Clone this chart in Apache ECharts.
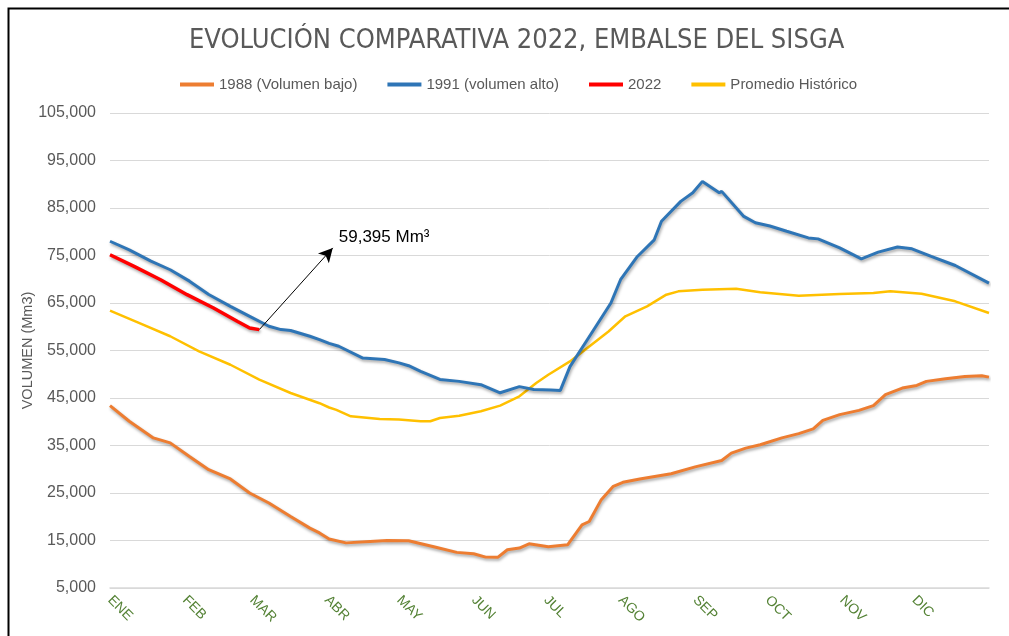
<!DOCTYPE html>
<html>
<head>
<meta charset="utf-8">
<script src="https://cdn.jsdelivr.net/npm/echarts@6/dist/echarts.min.js"></script>
<style>
  html, body { margin: 0; padding: 0; background: #ffffff; }
  #chart { width: 1009px; height: 636px; }
</style>
</head>
<body>
<div id="chart"></div>
<script>
// ---- Data (day of year, volume in Mm3) ----
const months = ['ENE','FEB','MAR','ABR','MAY','JUN','JUL','AGO','SEP','OCT','NOV','DIC'];
const monthStartDays = [0, 31, 59, 90, 120, 151, 181, 212, 243, 273, 304, 334];
const yTicks = [5000, 15000, 25000, 35000, 45000, 55000, 65000, 75000, 85000, 95000, 105000];

const days1988 = [0, 8, 18, 25, 33, 41, 50, 58, 66, 75, 83, 87, 91, 98, 108, 115, 124, 134, 144, 151, 156, 161, 165, 170, 174, 182, 190, 196, 199, 204, 209, 213, 220, 233, 243, 254, 258, 264, 270, 279, 286, 292, 296, 303, 311, 317, 322, 329, 335, 339, 347, 355, 362, 365];
const vol1988  = [43400, 40100, 36600, 35550, 32700, 29900, 27950, 25000, 22900, 20050, 17600, 16600, 15300, 14500, 14800, 15000, 14950, 13750, 12500, 12200, 11500, 11450, 13050, 13400, 14300, 13700, 14100, 18300, 19000, 23600, 26400, 27250, 27950, 29050, 30500, 31850, 33400, 34450, 35150, 36600, 37500, 38500, 40300, 41500, 42400, 43400, 45700, 47100, 47650, 48500, 49050, 49550, 49700, 49400];

const days1991 = [0, 8, 17, 25, 33, 41, 50, 58, 66, 71, 75, 83, 87, 91, 95, 105, 114, 120, 124, 129, 137, 145, 154, 162, 170, 176, 183, 187, 191, 199, 208, 212, 219, 226, 229, 237, 242, 246, 253, 254, 263, 268, 274, 281, 290, 294, 303, 312, 319, 327, 333, 341, 351, 365];
const vol1991  = [78000, 76200, 73800, 72000, 69600, 66800, 64300, 62200, 60100, 59400, 59200, 58000, 57300, 56500, 55900, 53400, 53100, 52400, 51800, 50600, 48900, 48500, 47800, 46100, 47400, 46800, 46700, 46600, 51600, 57900, 65000, 69900, 74800, 78300, 82200, 86400, 88200, 90600, 88200, 88500, 83300, 81900, 81200, 80100, 78700, 78500, 76600, 74300, 75700, 76800, 76400, 74800, 72900, 69200];

const days2022 = [0, 10, 21, 32, 43, 53, 58, 62];
const vol2022  = [75150, 72700, 69900, 66750, 63950, 61100, 59750, 59395];

const daysProm = [0, 12, 25, 37, 50, 62, 75, 87, 91, 94, 100, 112, 120, 129, 133, 137, 145, 154, 162, 170, 177, 182, 191, 199, 207, 214, 223, 231, 236, 246, 260, 270, 286, 303, 317, 324, 337, 351, 365];
const volProm  = [63400, 60800, 58000, 54800, 52000, 48850, 46050, 43900, 43000, 42500, 41150, 40600, 40450, 40100, 40100, 40800, 41250, 42200, 43400, 45350, 48150, 49900, 52700, 55850, 59000, 62200, 64300, 66750, 67450, 67800, 68000, 67250, 66550, 66900, 67100, 67450, 66950, 65350, 62900];

const annotationText = '59,395 Mm³';
const annotationFrom = [62, 59395];
const annotationTo = [92.5, 76600];

const zip = (xs, ys) => xs.map((x, i) => [x, ys[i]]);

const FONT = "'Liberation Sans', Arial, sans-serif";
const NARROW = "'Liberation Sans Narrow', 'DejaVu Sans Condensed', 'Liberation Sans', sans-serif";
const shadow = { shadowColor: 'rgba(0,0,0,0.35)', shadowBlur: 3, shadowOffsetX: 1, shadowOffsetY: 2 };

const chart = echarts.init(document.getElementById('chart'), null, { renderer: 'canvas' });
chart.setOption({
  animation: false,
  backgroundColor: '#ffffff',
  graphic: [{
    type: 'rect', left: 6, top: 6, silent: true, z: 100,
    shape: { width: 1100, height: 700 },
    style: { fill: 'none', stroke: '#000000', lineWidth: 2 }
  }],
  title: {
    text: 'EVOLUCIÓN COMPARATIVA 2022, EMBALSE DEL SISGA',
    left: 189, top: 27, padding: 0,
    textStyle: { fontFamily: NARROW, fontSize: 27, fontWeight: 'normal', color: '#595959' }
  },
  legend: {
    left: 175, top: 72, icon: 'rect', itemWidth: 34, itemHeight: 4, itemGap: 30,
    textStyle: { fontFamily: FONT, fontSize: 15, color: '#595959' },
    data: ['1988 (Volumen bajo)', '1991 (volumen alto)', '2022', 'Promedio Histórico']
  },
  grid: { left: 110, right: 20, top: 113, bottom: 48, containLabel: false },
  xAxis: {
    type: 'value', min: 0, max: 365,
    axisLine: { show: true, lineStyle: { color: '#d9d9d9', width: 1.5 } },
    axisTick: { show: false },
    splitLine: { show: false },
    axisLabel: {
      customValues: monthStartDays,
      formatter: v => months[monthStartDays.indexOf(v)] || '',
      rotate: -45, margin: 10,
      fontFamily: FONT, fontSize: 14, color: '#548235'
    }
  },
  yAxis: {
    type: 'value', min: yTicks[0], max: yTicks[yTicks.length - 1], interval: yTicks[1] - yTicks[0],
    name: 'VOLUMEN (Mm3)', nameLocation: 'middle', nameGap: 75, nameMoveOverlap: false,
    nameTextStyle: { fontFamily: FONT, fontSize: 14.5, color: '#595959' },
    axisLine: { show: false }, axisTick: { show: false },
    splitLine: { lineStyle: { color: '#d9d9d9', width: 1 } },
    axisLabel: {
      margin: 14, fontFamily: FONT, fontSize: 16, color: '#595959',
      formatter: v => v.toLocaleString('en-US')
    }
  },
  series: [
    {
      name: '1988 (Volumen bajo)', type: 'line', showSymbol: false, symbol: 'none',
      data: zip(days1988, vol1988), color: '#ED7D31',
      lineStyle: Object.assign({ width: 3, color: '#ED7D31' }, shadow), z: 3
    },
    {
      name: '1991 (volumen alto)', type: 'line', showSymbol: false, symbol: 'none',
      data: zip(days1991, vol1991), color: '#2E75B6',
      lineStyle: Object.assign({ width: 3, color: '#2E75B6' }, shadow), z: 3
    },
    {
      name: '2022', type: 'line', showSymbol: false, symbol: 'none',
      data: zip(days2022, vol2022), color: '#FF0000',
      lineStyle: Object.assign({ width: 3.5, color: '#FF0000' }, shadow), z: 5,
      markLine: {
        silent: true, symbol: ['none', 'arrow'], symbolSize: [11, 14],
        lineStyle: { color: '#000000', width: 1, type: 'solid', shadowBlur: 0, shadowOffsetX: 0, shadowOffsetY: 0 },
        label: { show: false },
        data: [[{ coord: annotationFrom }, { coord: annotationTo }]]
      },
      markPoint: {
        silent: true, symbol: 'circle', symbolSize: 0,
        itemStyle: { color: 'transparent' },
        label: {
          show: true, position: [6, -19], align: 'left', verticalAlign: 'top',
          formatter: annotationText,
          fontFamily: FONT, fontSize: 17, color: '#000000'
        },
        data: [{ coord: annotationTo }]
      }
    },
    {
      name: 'Promedio Histórico', type: 'line', showSymbol: false, symbol: 'none',
      data: zip(daysProm, volProm), color: '#FFC000',
      lineStyle: { width: 2.5, color: '#FFC000' }, z: 2
    }
  ]
});
</script>
</body>
</html>
